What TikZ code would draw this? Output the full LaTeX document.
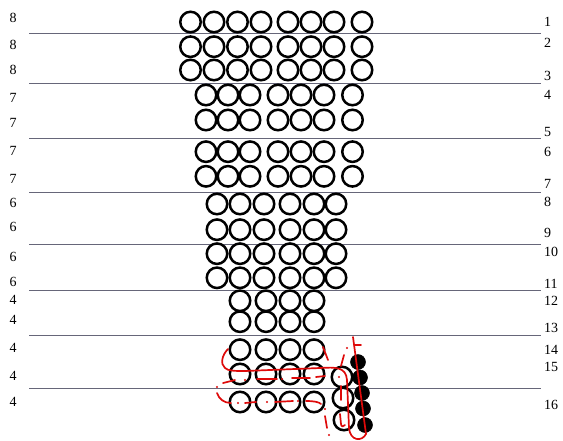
\documentclass[tikz,border=0pt]{standalone}
\usepackage{fontspec}
\setmainfont{Liberation Serif}
\definecolor{penred}{RGB}{222,10,10}
\begin{document}
\begin{tikzpicture}[x=1pt,y=-1pt,
  bead/.style={circle,draw=black,line width=2.5pt,minimum size=20.5pt,inner sep=0pt},
  blackbead/.style={circle,fill=black,draw=black,line width=0.5pt,minimum size=15pt,inner sep=0pt},
  rowline/.style={draw=black!62!blue!20!gray,line width=1pt},
  lab/.style={inner sep=0pt,font=\fontsize{14}{16}\selectfont},
  redmark/.style={draw=penred,line width=1.7pt,line cap=round,line join=round},
  reddot/.style={fill=penred}]
\useasboundingbox (0,0) rectangle (563,440);
% row lines
\foreach \y [count=\i] in {33,83,138,192,244,290,335,388}{
  \coordinate (la\i) at (29,\y);
  \coordinate (lb\i) at (541,\y);
  \draw[rowline] (la\i) -- (lb\i);
}
% beads
\foreach \y [count=\r] in {22,46.7,70}{
  \foreach \x [count=\c] in {190.5,214,237.5,261,288,311,334,362}
    \node[bead] (c-\r-\c) at (\x,\y) {};
}
\foreach \y [count=\r from 4] in {95,120,151.7,176.3}{
  \foreach \x [count=\c] in {206,228,250,278,301,324,352.5}
    \node[bead] (c-\r-\c) at (\x,\y) {};
}
\foreach \y [count=\r from 8] in {204,229.7,253.7,277.8}{
  \foreach \x [count=\c] in {217,240,264,290,314,336}
    \node[bead] (c-\r-\c) at (\x,\y) {};
}
\foreach \y [count=\r from 12] in {300.8,321.7,349.7,374,402}{
  \foreach \x [count=\c] in {240,266,290,314}
    \node[bead] (c-\r-\c) at (\x,\y) {};
}
\node[bead] (e1) at (342,377) {};
\node[bead] (e2) at (343,398) {};
\node[bead] (e3) at (344,420) {};
\node[blackbead] (b1) at (358,362) {};
\node[blackbead] (b2) at (360,377.5) {};
\node[blackbead] (b3) at (362,393) {};
\node[blackbead] (b4) at (363,408.5) {};
\node[blackbead] (b5) at (365,425) {};
% left labels
\foreach \y/\t [count=\i] in {18/8,45/8,70/8,98/7,123/7,151/7,179/7,203/6,227/6,257/6,282/6,300/4,320/4,348/4,376/4,402/4}
  \node[lab] (l\i) at (13,\y) {\t};
% right labels
\foreach \y [count=\i] in {22,43,76,95,132,152,184,202,233,252,284,301,328,350,367,405}
  \node[lab,anchor=west] (r\i) at (544,\y) {\i};
% red hand-drawn marks
\draw[redmark] (228,349) .. controls (222,355) and (220,364) .. (225,368)
  .. controls (228,371) and (235,371) .. (245,371) -- (320,368)
  .. controls (336,367) and (346,367) .. (347,380) -- (349,428)
  .. controls (350,441) and (362,442) .. (366,434) -- (353,337);
\draw[redmark] (355,345) -- (361,345);
\draw[redmark] (323,347) -- (328,360);
\draw[redmark] (344,355) -- (341,366);
\draw[redmark] (341,386) -- (341,400);
\draw[redmark] (325,416) -- (327,428);
\draw[redmark] (340,414) -- (341,424) .. controls (341,427) and (344,427) .. (345,425);
\draw[redmark] (223,383) -- (235,380);
\draw[redmark] (257,379) -- (277,379);
\draw[redmark] (292,378) -- (310,378);
\draw[redmark] (316,377) -- (325,376);
\draw[redmark] (217,393) .. controls (219,399) and (224,403) .. (231,403);
\draw[redmark] (245,403) -- (256,402);
\draw[redmark] (275,402) -- (293,401);
\draw[redmark] (306,401) .. controls (314,401) and (319,402) .. (321,404);
\foreach \p in {(347,348),(339,377),(329,435),(245,380),(282,379),(238,403),(267,402),(298,401),(325,409),(217,387)}
  \fill[reddot] \p circle (1.2);
\end{tikzpicture}
\end{document}
